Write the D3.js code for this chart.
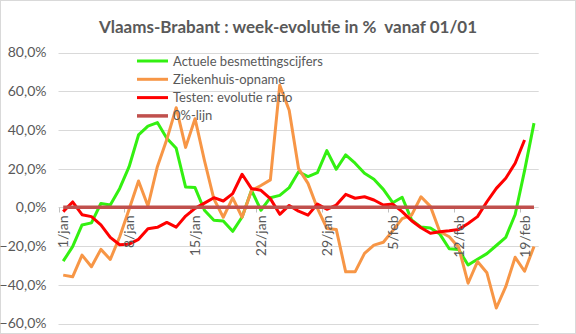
<!DOCTYPE html>
<html>
<head>
<meta charset="utf-8">
<script src="https://cdn.jsdelivr.net/npm/d3@7"></script>
<style>
  html, body { margin: 0; padding: 0; background: #fff; }
  svg { display: block; font-family: Lato, "Open Sans", sans-serif; }
</style>
</head>
<body>
<svg id="chart" width="576" height="334"></svg>
<script>
// ---------- DATA ----------
const categories = [
  "1/jan","2/jan","3/jan","4/jan","5/jan","6/jan","7/jan","8/jan","9/jan","10/jan",
  "11/jan","12/jan","13/jan","14/jan","15/jan","16/jan","17/jan","18/jan","19/jan","20/jan",
  "21/jan","22/jan","23/jan","24/jan","25/jan","26/jan","27/jan","28/jan","29/jan","30/jan",
  "31/jan","1/feb","2/feb","3/feb","4/feb","5/feb","6/feb","7/feb","8/feb","9/feb",
  "10/feb","11/feb","12/feb","13/feb","14/feb","15/feb","16/feb","17/feb","18/feb","19/feb","20/feb"
];
const tickLabels = ["1/jan","8/jan","15/jan","22/jan","29/jan","5/feb","12/feb","19/feb"];

const besmettingen = [
  -27.8,-20.3,-9.1,-8,2,1.2,9.8,21,37.4,42,
  43.8,35.7,30.5,10.5,10.2,-1.5,-6.7,-7,-12.4,-5,
  8.8,-1.5,5,6.2,10.2,18.4,15.9,17.9,29.3,19.7,
  27.1,22.8,17.6,14.5,9.3,2.4,5.2,-6.5,-10.2,-10.7,
  -13.8,-21.4,-21.8,-29.8,-26.8,-23.9,-19.7,-15.5,-3.7,19,43.5
];
const ziekenhuis = [
  -35,-35.9,-24.7,-30.7,-21.7,-26.9,-15.2,-1,13.6,0.7,
  21,35,51.5,31,45.8,24.2,4.4,-5.1,4.9,-5.1,
  8.7,11.3,14.2,63.1,50.2,20,12.4,-0.5,-10.9,-11.4,
  -33.3,-33.3,-23.8,-19.5,-18,-12,-5.8,-4,5.5,0.5,
  -12.6,-15.2,-20.7,-39.2,-28,-33.8,-52,-41,-25.8,-33,-20.2
];
const testen = [
  -2.2,2.8,-3.8,-4.8,-9,-15.5,-19.3,-19,-16.5,-11,
  -10.3,-7.8,-10.2,-4.5,-0.5,2.2,5,3.3,7.1,17.1,
  9.7,8.8,4.5,-3.6,1,-2,-4,1.7,-1,1.2,
  6.7,4.7,5.5,3.8,1.2,1.7,-2.2,-6.9,-10.5,-13.4,
  -12.6,-12.1,-11.4,-8.3,-4.8,2.9,9.8,15,22.8,34.8
];
const nulLijn = [
  0,0,0,0,0,0,0,0,0,0,0,0,0,0,0,0,0,0,0,0,0,0,0,0,0,0,
  0,0,0,0,0,0,0,0,0,0,0,0,0,0,0,0,0,0,0,0,0,0,0,0,0
];
const yTicks = [80,60,40,20,0,-20,-40,-60];

const seriesNames = ["Actuele besmettingscijfers","Ziekenhuis-opname","Testen: evolutie ratio","0%-lijn"];
const seriesColors = ["#33f011","#f79646","#ff0000","#c0504d"];
const seriesData = [besmettingen, ziekenhuis, testen, nulLijn];

// ---------- CHART ----------
(function () {
const svg = d3.select("#chart");
const W = 576, H = 334;
const pLeft = 58.5, pRight = 538.7, pTop = 52.5, pBottom = 323.5;
const textColor = "#595959";

svg.append("rect").attr("x",0.5).attr("y",0.5).attr("width",W-1).attr("height",H-1)
  .attr("fill","#fff").attr("stroke","#d9d9d9");

const x = d3.scaleBand().domain(categories).range([pLeft, pRight]).padding(0);
const cx = c => x(c) + x.bandwidth()/2;
const y = d3.scaleLinear().domain([-60, 80]).range([pBottom, pTop]);

// gridlines
svg.append("g").selectAll("line").data(yTicks).join("line")
  .attr("x1", pLeft).attr("x2", pRight)
  .attr("y1", d => Math.round(y(d)) + 0.5).attr("y2", d => Math.round(y(d)) + 0.5)
  .attr("stroke", "#d9d9d9").attr("stroke-width", 1);

// y axis labels
const yAxis = d3.axisLeft(y).tickValues(yTicks).tickSize(0).tickPadding(0)
  .tickFormat(d => d3.format(".1f")(d).replace(".", ",") + "%");
const yg = svg.append("g").attr("transform", `translate(${pLeft - 12},0)`).call(yAxis);
yg.select(".domain").remove();
yg.selectAll("text").attr("fill", textColor).style("font-size","14px")
  .style("font-family","Lato, sans-serif");

// category axis ticks (at 0 line)
const y0 = Math.round(y(0)) + 0.5;
const tickIdx = tickLabels.map(t => categories.indexOf(t));
svg.append("g").selectAll("line").data(tickIdx).join("line")
  .attr("x1", i => Math.round(x(categories[i])) + 0.5)
  .attr("x2", i => Math.round(x(categories[i])) + 0.5)
  .attr("y1", y0).attr("y2", y0 + 5)
  .attr("stroke", "#bfbfbf");

// series lines
const line = d3.line().x((d, i) => cx(categories[i])).y(d => y(d));
const widths = [3, 3, 3, 3.5];
seriesData.forEach((s, k) => {
  svg.append("path").datum(s)
    .attr("d", line)
    .attr("fill", "none")
    .attr("stroke", seriesColors[k])
    .attr("stroke-width", widths[k])
    .attr("stroke-linejoin", "round");
});

// x labels (rotated)
svg.append("g").selectAll("text").data(tickLabels).join("text")
  .attr("transform", d => `translate(${cx(d) + 5},${y0 + 8}) rotate(-90)`)
  .attr("text-anchor", "end")
  .attr("fill", textColor)
  .style("font-size", "14px")
  .text(d => d);

// legend
const lg = svg.append("g");
seriesNames.forEach((n, k) => {
  const ly = 61 + k * 18.3;
  lg.append("line").attr("x1", 137).attr("x2", 168).attr("y1", ly).attr("y2", ly)
    .attr("stroke", seriesColors[k]).attr("stroke-width", widths[k]);
  lg.append("text").attr("x", 173).attr("y", ly + 4.5).attr("fill", textColor)
    .style("font-size", "13px").text(n);
});

// title
svg.append("text").attr("x", 288).attr("y", 33).attr("text-anchor", "middle")
  .attr("fill", textColor).style("font-size", "17px").style("font-weight", "bold")
  .style("white-space", "pre")
  .text("Vlaams-Brabant : week-evolutie in %  vanaf 01/01");
})();
</script>
</body>
</html>
